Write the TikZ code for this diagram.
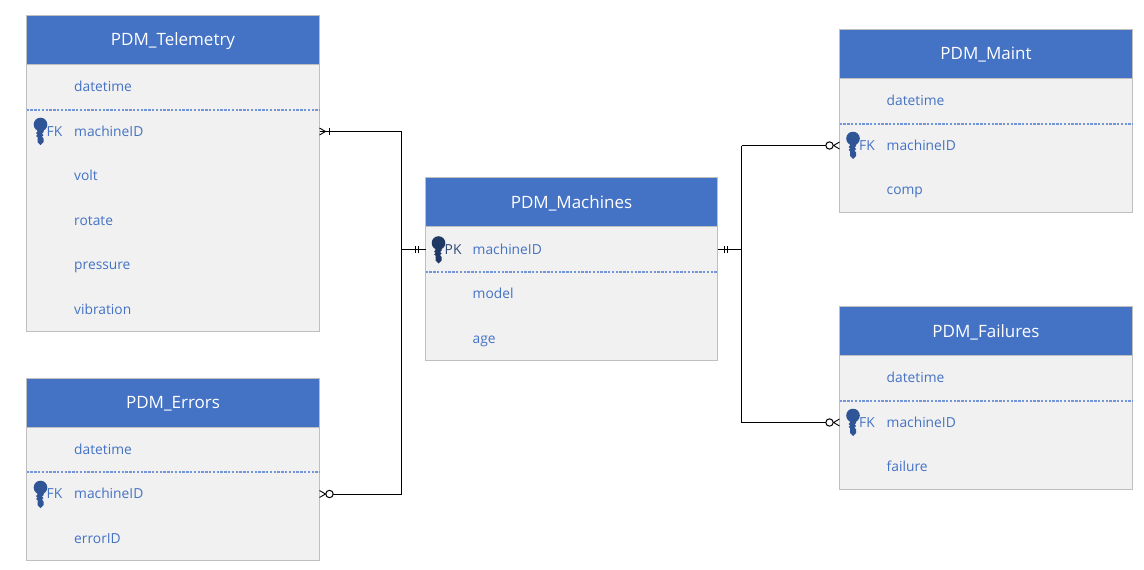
\documentclass[tikz,border=0pt]{standalone}
\usepackage{fontspec}
\setmainfont{Open Sans}
\definecolor{hdr}{HTML}{4472C4}
\definecolor{bodyc}{HTML}{F1F1F1}
\definecolor{edge}{HTML}{BFBFBF}
\definecolor{dashc}{HTML}{7396D8}
\definecolor{keyfk}{HTML}{2F5597}
\definecolor{keypk}{HTML}{1F3864}
\definecolor{txtpk}{HTML}{2F4A75}
\tikzset{
  tablebody/.style={draw=edge,fill=bodyc,line width=1pt,anchor=north west,inner sep=0pt,outer sep=0pt},
  tablehead/.style={draw=edge,fill=hdr,line width=1pt,anchor=north west,inner sep=0pt,outer sep=0pt,text=white,font=\fontsize{17}{20}\selectfont},
  fieldname/.style={anchor=base west,inner sep=0pt,text=hdr,font=\fontsize{13.8}{16}\selectfont},
  keytag/.style={anchor=base west,inner sep=0pt,font=\fontsize{13.8}{16}\selectfont},
  seprule/.style={dashc,line width=1.2pt,dash pattern=on 2.4pt off 1.4pt},
  conn/.style={black,line width=1pt},
  tick/.style={black,line width=0.9pt},
}
% #1 name, #2 x, #3 y, #4 width, #5 height, #6 title
\newcommand{\erbox}[6]{%
  \node[tablebody,minimum width=#4pt,minimum height=#5pt] (#1) at (#2,#3) {};
  \node[tablehead,minimum width=#4pt,minimum height=49pt] (#1Head) at (#2,#3) {\raisebox{-1pt}[\height][\depth]{#6}};
}
% #1 name, #2 x, #3 row y, #4 text
\newcommand{\erfield}[4]{\node[fieldname] (#1) at (#2+47.5,#3+5) {#4};}
% #1 x, #2 row y, #3 colour
\newcommand{\erkey}[3]{%
  \fill[#3] (#1+14,#2-6.5) circle[radius=6.8];
  \fill[#3] (#1+10.5,#2-2) -- (#1+17.5,#2-2) -- (#1+17,#2+1) -- (#1+15.5,#2+2.5) -- (#1+17,#2+4) -- (#1+15.5,#2+5.5) -- (#1+17,#2+7.5) -- (#1+17,#2+11) -- (#1+14,#2+14) -- (#1+11,#2+11) -- (#1+11,#2+6) -- (#1+9.5,#2+5) -- (#1+11,#2+3.5) -- (#1+9.5,#2+2) -- (#1+11,#2+0.5) -- cycle;
}
\begin{document}
\begin{tikzpicture}[x=1pt,y=-1pt]
\useasboundingbox (0,0) rectangle (1144,570);
\fill[white] (0,0) rectangle (1144,570);

% Telemetry
\erbox{tele}{26.5}{15.5}{293}{316}{PDM\_Telemetry}
\draw[seprule] (26.5,109.9) -- (319.5,109.9);
\erfield{teleDate}{26.5}{86}{datetime}
\erfield{teleId}{26.5}{131}{machineID}
\erfield{teleVolt}{26.5}{175}{volt}
\erfield{teleRot}{26.5}{220}{rotate}
\erfield{telePres}{26.5}{264}{pressure}
\erfield{teleVib}{26.5}{309}{vibration}
\erkey{26.5}{131}{keyfk}
\node[keytag,text=hdr] (teleFk) at (46.5,136) {FK};

% Errors
\erbox{err}{26.5}{378.5}{293}{182}{PDM\_Errors}
\draw[seprule] (26.5,471.9) -- (319.5,471.9);
\erfield{errDate}{26.5}{449}{datetime}
\erfield{errId}{26.5}{493.5}{machineID}
\erfield{errCode}{26.5}{538}{errorID}
\erkey{26.5}{494}{keyfk}
\node[keytag,text=hdr] (errFk) at (46.5,498.5) {FK};

% Machines
\erbox{mach}{425.5}{177.5}{292}{183}{PDM\_Machines}
\draw[seprule] (425.5,271.9) -- (717.5,271.9);
\erfield{machId}{425}{249}{machineID}
\erfield{machModel}{425}{293}{model}
\erfield{machAge}{425}{338}{age}
\erkey{424.5}{249.5}{keypk}
\node[keytag,text=txtpk] (machPk) at (444.5,254) {PK};

% Maint
\erbox{maint}{839.5}{29.5}{293}{183}{PDM\_Maint}
\draw[seprule] (839.5,123.9) -- (1132.5,123.9);
\erfield{maintDate}{839}{100}{datetime}
\erfield{maintId}{839}{145}{machineID}
\erfield{maintComp}{839}{189}{comp}
\erkey{839}{145}{keyfk}
\node[keytag,text=hdr] (maintFk) at (859,150) {FK};

% Failures
\erbox{fail}{839.5}{306.5}{293}{183}{PDM\_Failures}
\draw[seprule] (839.5,400.9) -- (1132.5,400.9);
\erfield{failDate}{839}{377}{datetime}
\erfield{failId}{839}{422}{machineID}
\erfield{failName}{839}{466}{failure}
\erkey{839}{422}{keyfk}
\node[keytag,text=hdr] (failFk) at (859,427) {FK};

% Ports on box edges
\coordinate (pTele) at (319.5,131.5);
\coordinate (pErr) at (319.5,494);
\coordinate (pMachL) at (mach.west |- 0,249.5);
\coordinate (pMachR) at (mach.east |- 0,249.5);
\coordinate (pMaint) at (839.5,145.5);
\coordinate (pFail) at (839.5,422.5);
\coordinate (busL) at (401.5,0);
\coordinate (busR) at (741.5,0);

% Connectors
\draw[conn] (pTele) -- (busL |- pTele) -- (busL |- pErr) -- ([xshift=13.7]pErr);
\draw[conn] (pMachL) -- (busL |- pMachL);
\draw[conn] (pMachR) -- (busR |- pMachR);
\draw[conn] (busR |- pMaint) -- (busR |- pFail);
\draw[conn] (busR |- pMaint) -- ([xshift=-13.7]pMaint);
\draw[conn] (busR |- pFail) -- ([xshift=-13.7]pFail);

% Telemetry end: crow foot and bar
\draw[tick] ([yshift=-3.5]pTele) -- ([xshift=6]pTele) -- ([yshift=3.5]pTele);
\draw[tick] ([xshift=10,yshift=-3.5]pTele) -- ([xshift=10,yshift=3.5]pTele);
% Errors end
\draw[tick] ([yshift=-3.5]pErr) -- ([xshift=6]pErr) -- ([yshift=3.5]pErr);
\draw[conn,fill=white] ([xshift=10]pErr) circle[radius=3.7];
% Maint end
\draw[tick] ([yshift=-3.5]pMaint) -- ([xshift=-6]pMaint) -- ([yshift=3.5]pMaint);
\draw[conn,fill=white] ([xshift=-10]pMaint) circle[radius=3.7];
% Failures end
\draw[tick] ([yshift=-3.5]pFail) -- ([xshift=-6]pFail) -- ([yshift=3.5]pFail);
\draw[conn,fill=white] ([xshift=-10]pFail) circle[radius=3.7];
% Machines ends: double bars
\draw[tick] ([xshift=-10]pMachL) ++(0,-3.5) -- ++(0,7);
\draw[tick] ([xshift=-7]pMachL) ++(0,-3.5) -- ++(0,7);
\draw[tick] ([xshift=7]pMachR) ++(0,-3.5) -- ++(0,7);
\draw[tick] ([xshift=10]pMachR) ++(0,-3.5) -- ++(0,7);
\end{tikzpicture}
\end{document}
